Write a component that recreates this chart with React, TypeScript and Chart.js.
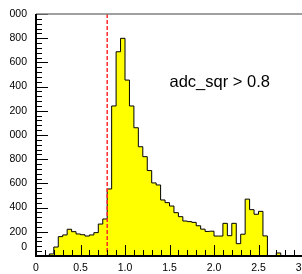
import React, { useEffect, useRef } from 'react';
import { Chart, registerables } from 'chart.js';

Chart.register(...registerables);

// Histogram: 60 bins of width 0.05 from 0 to 3
const binStart = 0;
const binWidth = 0.05;
const binCount = 60;
const counts = [
  0, 0, 0, 17, 74, 160, 174, 221, 201, 182,
  176, 165, 174, 193, 264, 306, 554, 1240, 1688, 1799,
  1454, 1240, 1060, 903, 821, 706, 604, 587, 463, 441,
  413, 358, 325, 289, 284, 278, 250, 222, 203, 205,
  165, 165, 270, 168, 270, 102, 180, 470, 383, 345,
  369, 166, 0, 0, 25, 0, 0, 0, 0, 0,
];
const xMin = 0;
const xMax = 3;
const xStep = 0.5;
const yMin = 0;
const yMax = 2000;
const yStep = 200;
const cutValue = 0.8;
const annotationText = 'adc_sqr > 0.8';
const annotationX = 1.5;
const annotationY = 1400;

const FONT = '"Liberation Sans", Arial, Helvetica, sans-serif';

const framePlugin = {
  id: 'rootFrame',
  afterDatasetsDraw(chart: any) {
    const { ctx, chartArea: a, scales } = chart;
    const x = scales.x;
    const y = scales.y;
    ctx.save();

    // cut line
    const xc = x.getPixelForValue(cutValue);
    ctx.strokeStyle = '#ff2a2a';
    ctx.lineWidth = 1.5;
    ctx.setLineDash([4, 2]);
    ctx.beginPath();
    ctx.moveTo(xc, a.top);
    ctx.lineTo(xc, a.bottom);
    ctx.stroke();
    ctx.setLineDash([]);

    // x ticks (inside)
    ctx.strokeStyle = '#000';
    ctx.lineWidth = 1;
    ctx.beginPath();
    for (let i = 0; i < 30; i++) {
      const v = i * 0.1;
      const px = Math.round(x.getPixelForValue(v)) + 0.5;
      const len = i % 5 === 0 ? 11 : 6;
      ctx.moveTo(px, a.bottom);
      ctx.lineTo(px, a.bottom - len);
    }
    // y ticks (inside)
    for (let i = 0; i <= 50; i++) {
      const v = i * 40;
      const py = Math.round(y.getPixelForValue(v)) + 0.5;
      const len = i % 5 === 0 ? 12 : 6;
      ctx.moveTo(a.left, py);
      ctx.lineTo(a.left + len, py);
    }
    ctx.stroke();

    // frame: top in grey, axes in black
    ctx.strokeStyle = '#808080';
    ctx.lineWidth = 1.5;
    ctx.beginPath();
    ctx.moveTo(a.left, a.top);
    ctx.lineTo(a.right, a.top);
    ctx.stroke();
    ctx.strokeStyle = '#000';
    ctx.lineWidth = 2;
    ctx.beginPath();
    ctx.moveTo(a.left, a.top);
    ctx.lineTo(a.left, a.bottom);
    ctx.lineTo(a.right, a.bottom);
    ctx.stroke();

    // annotation
    ctx.fillStyle = '#000';
    ctx.font = `16.5px ${FONT}`;
    ctx.textAlign = 'left';
    ctx.textBaseline = 'alphabetic';
    ctx.fillText(annotationText, x.getPixelForValue(annotationX), y.getPixelForValue(annotationY));
    ctx.restore();
  },
};

const zeroPad = (s: any) => {
  s.paddingLeft = 0;
  s.paddingRight = 0;
  s.paddingTop = 0;
  s.paddingBottom = 0;
};

export default function App() {
  const ref = useRef<HTMLCanvasElement | null>(null);

  useEffect(() => {
    if (!ref.current) return;
    const points = counts.map((c, i) => ({ x: +(binStart + i * binWidth).toFixed(2), y: c }));
    points.push({ x: +(binStart + binCount * binWidth).toFixed(2), y: counts[binCount - 1] });

    const chart = new Chart(ref.current, {
      type: 'line',
      data: {
        datasets: [
          {
            data: points,
            stepped: 'before',
            fill: 'origin',
            backgroundColor: '#ffff00',
            borderColor: '#000000',
            borderWidth: 1,
            pointRadius: 0,
            tension: 0,
          },
        ],
      },
      options: {
        responsive: false,
        animation: false,
        events: [],
        layout: { padding: { left: 0, top: 14, right: 17, bottom: 0 } },
        plugins: { legend: { display: false }, tooltip: { enabled: false } },
        scales: {
          x: {
            type: 'linear',
            min: xMin,
            max: xMax,
            grid: { display: false, drawTicks: false },
            border: { display: false },
            afterFit: (s: any) => {
              s.height = 18;
              zeroPad(s);
            },
            ticks: {
              stepSize: xStep,
              autoSkip: false,
              maxRotation: 0,
              padding: 6,
              color: '#000',
              font: { family: FONT, size: 10.5 },
            },
          },
          y: {
            type: 'linear',
            min: yMin,
            max: yMax,
            grid: { display: false, drawTicks: false },
            border: { display: false },
            afterFit: (s: any) => {
              s.width = 36;
              zeroPad(s);
            },
            ticks: {
              stepSize: yStep,
              autoSkip: false,
              padding: 9,
              color: '#000',
              font: (c: any) => ({
                family: FONT,
                size: 10.5,
                lineHeight: c.tick && c.tick.value === 0 ? 1.7 : 1.2,
              }),
              callback: (v: any) => {
                const s = String(v);
                if (v === 0) return ['0', ''];
                return v >= 1000 ? s.slice(-3) : s;
              },
            },
          },
        },
      },
      plugins: [framePlugin],
    });
    return () => chart.destroy();
  }, []);

  return (
    <div
      style={{
        position: 'fixed',
        left: 0,
        top: 0,
        width: 302,
        height: 274,
        overflow: 'hidden',
        background: '#fff',
      }}
    >
      <canvas ref={ref} width={320} height={274} style={{ width: 320, height: 274, display: 'block' }} />
    </div>
  );
}
